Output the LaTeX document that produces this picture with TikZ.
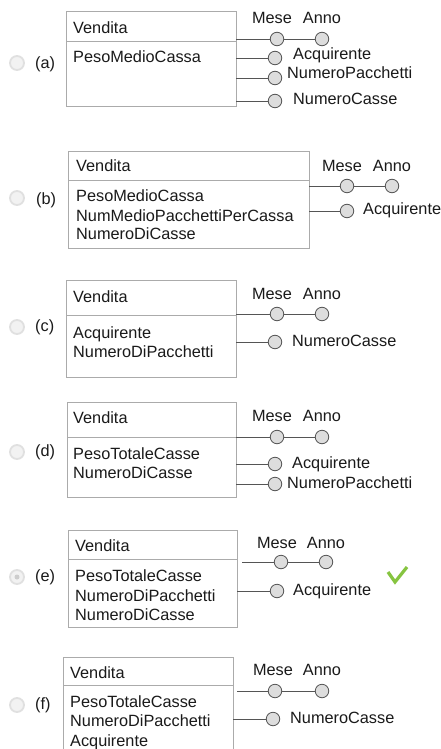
\documentclass[tikz,border=0pt]{standalone}
\usepackage{fontspec}
\setmainfont{Liberation Sans}
\begin{document}
\begin{tikzpicture}[x=1pt,y=-1pt,
  boxline/.style={draw=boxgray,line width=1pt},
  conn/.style={draw=linegray,line width=0.9pt},
  attr/.style={circle,draw=linegray,fill=circfill,line width=0.8pt,minimum size=13.5pt,inner sep=0pt},
  lbl/.style={inner sep=0pt,text=textc,font=\fontsize{16.3}{19}\selectfont,anchor=base west},
  clbl/.style={lbl,anchor=base},
  radio/.style={circle,draw=radiodraw,fill=radiofill,line width=1.8pt,minimum size=14pt,inner sep=0pt}]
\definecolor{boxgray}{HTML}{ABABAB}
\definecolor{linegray}{HTML}{555555}
\definecolor{circfill}{HTML}{DDDDDD}
\definecolor{textc}{HTML}{1A1A1A}
\definecolor{radiodraw}{HTML}{E0E0E0}
\definecolor{radiofill}{HTML}{F2F2F2}
\definecolor{okgreen}{HTML}{86C440}
\useasboundingbox[fill=white] (0,0) rectangle (441,749);

% ---------- (a)
\node[radio] (ra) at (17,63) {};
\node[lbl] (la) at (35,69) {(a)};
\draw[boxline] (66,12) rectangle (236,107);
\draw[boxline] (66,42) -- (236,42);
\node[lbl] (aven) at (73,34) {Vendita};
\node[lbl] (aat1) at (73,63) {PesoMedioCassa};
\node[attr] (am) at (277,39) {};
\node[attr] (an) at (322,39) {};
\node[clbl] (aml) at (272,24) {Mese};
\node[clbl] (anl) at (322,24) {Anno};
\coordinate (a1) at (236,39);
\draw[conn] (a1) -- (am) -- (an);
\node[attr] (aacq) at (275,58) {};
\coordinate (a2) at (236,58);
\draw[conn] (a2) -- (aacq);
\node[lbl] (aacql) at (293,60) {Acquirente};
\node[attr] (anp) at (275,78) {};
\coordinate (a3) at (236,78);
\draw[conn] (a3) -- (anp);
\node[lbl] (anpl) at (287,79) {NumeroPacchetti};
\node[attr] (anc) at (275,101) {};
\coordinate (a4) at (236,101);
\draw[conn] (a4) -- (anc);
\node[lbl] (ancl) at (293,105) {NumeroCasse};

% ---------- (b)
\node[radio] (rb) at (17,198) {};
\node[lbl] (lb) at (36,204) {(b)};
\draw[boxline] (68,151) rectangle (309,248);
\draw[boxline] (68,180) -- (309,180);
\node[lbl] (bven) at (76,171) {Vendita};
\node[lbl] (bat1) at (76,201) {PesoMedioCassa};
\node[lbl] (bat2) at (76,221) {NumMedioPacchettiPerCassa};
\node[lbl] (bat3) at (76,239) {NumeroDiCasse};
\node[attr] (bm) at (347,186) {};
\node[attr] (bn) at (392,186) {};
\node[clbl] (bml) at (342,171) {Mese};
\node[clbl] (bnl) at (392,171) {Anno};
\coordinate (b1) at (309,186);
\draw[conn] (b1) -- (bm) -- (bn);
\node[attr] (bacq) at (347,211) {};
\coordinate (b2) at (309,211);
\draw[conn] (b2) -- (bacq);
\node[lbl] (bacql) at (363,214) {Acquirente};

% ---------- (c)
\node[radio] (rc) at (17,327) {};
\node[lbl] (lc) at (35,331) {(c)};
\draw[boxline] (66,280) rectangle (236,377);
\draw[boxline] (66,315) -- (236,315);
\node[lbl] (cven) at (73,302) {Vendita};
\node[lbl] (cat1) at (73,338) {Acquirente};
\node[lbl] (cat2) at (73,357) {NumeroDiPacchetti};
\node[attr] (cm) at (277,314) {};
\node[attr] (cn) at (322,314) {};
\node[clbl] (cml) at (272,299) {Mese};
\node[clbl] (cnl) at (322,299) {Anno};
\coordinate (c1) at (236,314);
\draw[conn] (c1) -- (cm) -- (cn);
\node[attr] (cnc) at (275,342) {};
\coordinate (c2) at (236,342);
\draw[conn] (c2) -- (cnc);
\node[lbl] (cncl) at (292,346) {NumeroCasse};

% ---------- (d)
\node[radio] (rd) at (17,452) {};
\node[lbl] (ld) at (35,456) {(d)};
\draw[boxline] (67,402) rectangle (236,497);
\draw[boxline] (67,437) -- (236,437);
\node[lbl] (dven) at (73,423) {Vendita};
\node[lbl] (dat1) at (73,459) {PesoTotaleCasse};
\node[lbl] (dat2) at (73,478) {NumeroDiCasse};
\node[attr] (dm) at (277,437) {};
\node[attr] (dn) at (322,437) {};
\node[clbl] (dml) at (272,421) {Mese};
\node[clbl] (dnl) at (322,421) {Anno};
\coordinate (d1) at (236,437);
\draw[conn] (d1) -- (dm) -- (dn);
\node[attr] (dacq) at (275,464) {};
\coordinate (d2) at (236,464);
\draw[conn] (d2) -- (dacq);
\node[lbl] (dacql) at (292,468) {Acquirente};
\node[attr] (dnp) at (275,484) {};
\coordinate (d3) at (236,484);
\draw[conn] (d3) -- (dnp);
\node[lbl] (dnpl) at (287,488) {NumeroPacchetti};

% ---------- (e)
\node[radio] (re) at (17,577) {};
\fill[radiodraw!80!gray] (re.center) circle (2.5);
\node[lbl] (le) at (35,581) {(e)};
\draw[boxline] (68,530) rectangle (237,627);
\draw[boxline] (68,559) -- (237,559);
\node[lbl] (even) at (75,551) {Vendita};
\node[lbl] (eat1) at (75,581) {PesoTotaleCasse};
\node[lbl] (eat2) at (75,601) {NumeroDiPacchetti};
\node[lbl] (eat3) at (75,620) {NumeroDiCasse};
\node[attr] (em) at (281,562) {};
\node[attr] (en) at (326,562) {};
\node[clbl] (eml) at (277,548) {Mese};
\node[clbl] (enl) at (326,548) {Anno};
\coordinate (e1) at (242,562);
\draw[conn] (e1) -- (em) -- (en);
\node[attr] (eacq) at (277,591) {};
\coordinate (e2) at (237,591);
\draw[conn] (e2) -- (eacq);
\node[lbl] (eacql) at (293,595) {Acquirente};
\draw[okgreen,line width=3.2pt,line join=miter,line cap=butt] (388,572) -- (395,582) -- (407,567);

% ---------- (f)
\node[radio] (rf) at (17,705) {};
\node[lbl] (lf) at (35,709) {(f)};
\draw[boxline] (63,749) -- (63,657) -- (233,657) -- (233,749);
\draw[boxline] (63,685) -- (233,685);
\node[lbl] (fven) at (70,678) {Vendita};
\node[lbl] (fat1) at (70,707) {PesoTotaleCasse};
\node[lbl] (fat2) at (70,726) {NumeroDiPacchetti};
\node[lbl] (fat3) at (70,746) {Acquirente};
\node[attr] (fm) at (275,691) {};
\node[attr] (fn) at (322,691) {};
\node[clbl] (fml) at (273,675) {Mese};
\node[clbl] (fnl) at (322,675) {Anno};
\coordinate (f1) at (237,691);
\draw[conn] (f1) -- (fm) -- (fn);
\node[attr] (fnc) at (273,719) {};
\coordinate (f2) at (233,719);
\draw[conn] (f2) -- (fnc);
\node[lbl] (fncl) at (290,723) {NumeroCasse};
\end{tikzpicture}
\end{document}
